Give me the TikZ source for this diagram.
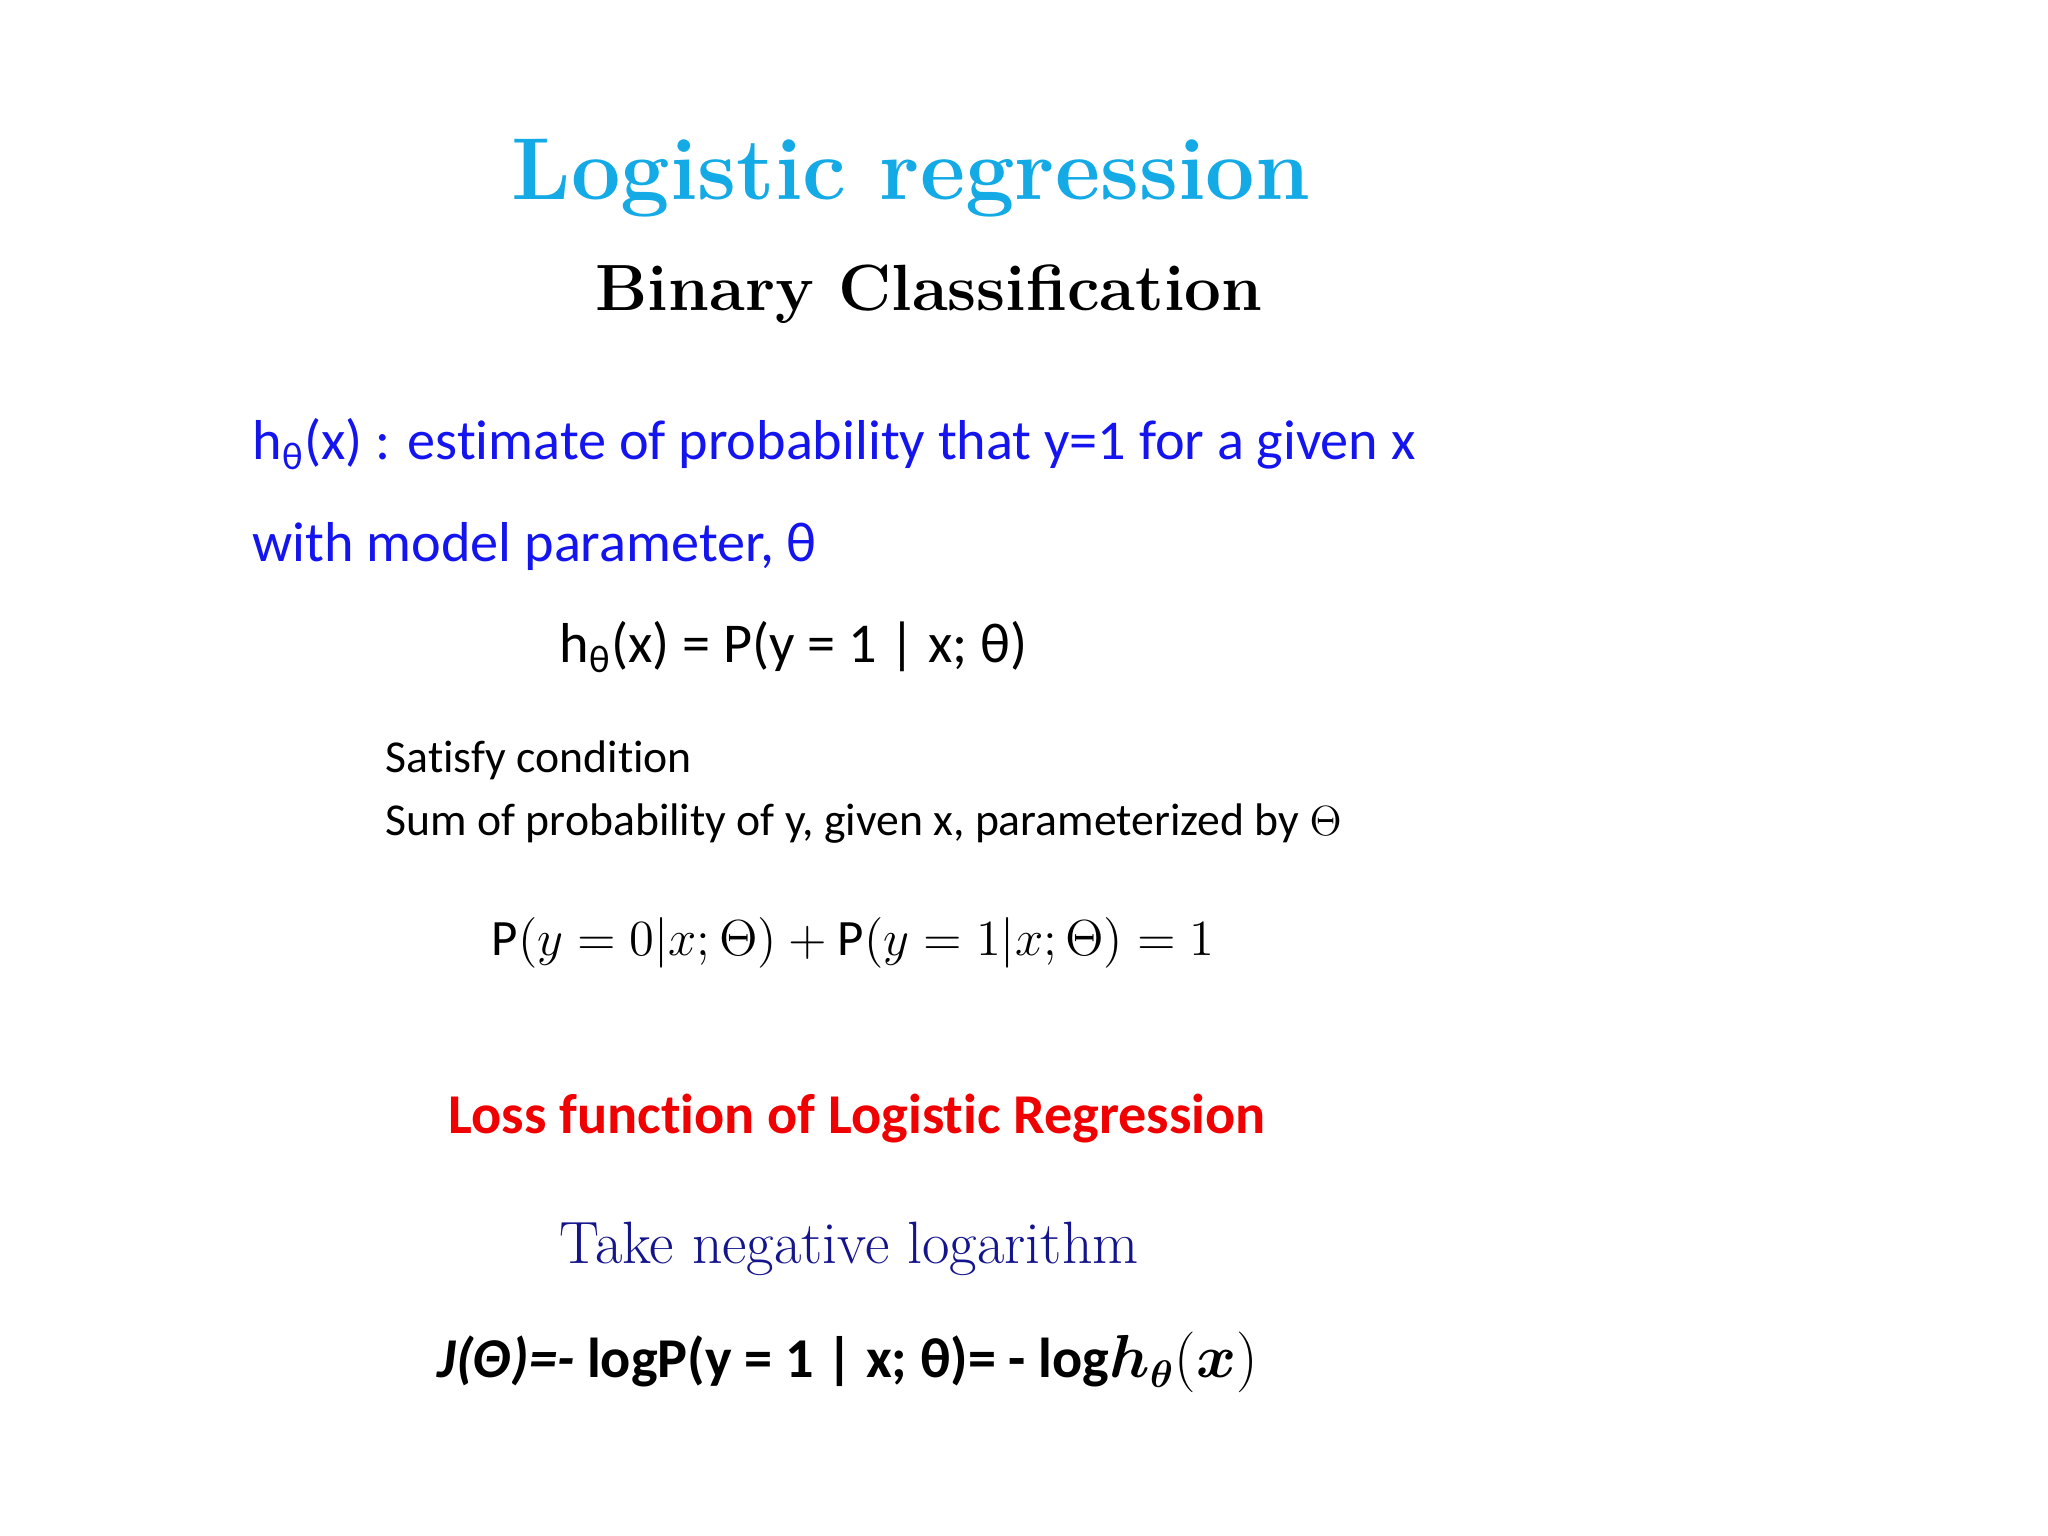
\documentclass[tikz,border=0pt]{standalone}
\usepackage{fontspec}
\usepackage{amsmath}
\newfontfamily\carl[Ligatures=NoCommon]{Carlito}
\definecolor{ttl}{RGB}{20,170,230}
\definecolor{bl}{RGB}{20,20,240}
\definecolor{dbl}{RGB}{20,20,140}
\definecolor{rd}{RGB}{240,0,0}
\newcommand{\thsub}{\textsubscript{\fontsize{11}{12}\selectfont θ}}
\begin{document}
\begin{tikzpicture}[x=1cm,y=1cm,
  body/.style={anchor=base west,inner sep=0pt,font=\carl\fontsize{16}{19}\selectfont}]
\useasboundingbox[fill=white] (0,0) rectangle (20.48,15.36);
\node[inner sep=0pt,anchor=base,text=ttl,font=\bfseries\fontsize{25}{30}\selectfont] (t) at (9.11,13.36) {Logistic regression};
\node[inner sep=0pt,anchor=base,font=\bfseries\fontsize{18.6}{22}\selectfont] (s) at (9.29,12.25) {Binary Classification};
\node[body,text=bl] (l1) at (2.52,10.76) {h\thsub(x) : estimate of probability that y=1 for a given x};
\node[body,text=bl] (l2) at (2.52,9.74) {with model parameter, θ};
\node[body] (e1) at (5.59,8.73) {h\thsub(x) = P(y = 1 | x; θ)};
\node[body,font=\carl\fontsize{13}{16}\selectfont] (c1) at (3.85,7.63) {Satisfy condition};
\node[body,font=\carl\fontsize{13}{16}\selectfont] (c2) at (3.85,7.00) {Sum of probability of y, given x, parameterized by $\Theta$};
\node[body,font=\carl\fontsize{14.5}{17}\selectfont] (e2) at (4.91,5.80) {P$(y=0|x;\Theta)+{}$P$(y=1|x;\Theta)=1$};
\node[body,text=rd,font=\carl\bfseries\fontsize{16}{19}\selectfont] (lf) at (4.48,4.02) {Loss function of Logistic Regression};
\node[body,text=dbl,font=\fontsize{17}{20}\selectfont] (tn) at (5.59,2.72) {Take negative logarithm};
\node[body,font=\carl\bfseries\fontsize{16}{19}\selectfont] (j) at (4.37,1.58) {\textit{J(Θ)=-} logP(y = 1 | x; θ)= - log$\boldsymbol{h_\theta}(\boldsymbol{x})$};
\end{tikzpicture}
\end{document}
